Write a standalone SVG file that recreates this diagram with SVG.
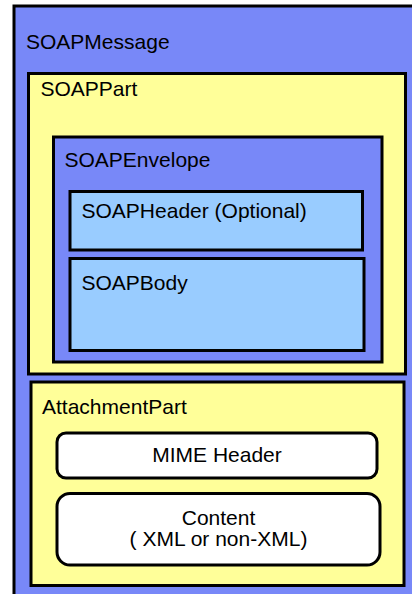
<svg xmlns="http://www.w3.org/2000/svg" width="412" height="594" viewBox="0 0 412 594">
  <style>
    .box { stroke: #000; stroke-width: 3; }
    .msg { fill: #7888F8; }
    .part { fill: #FFFF99; }
    .env { fill: #7888F8; }
    .inner { fill: #99CCFF; }
    .mime { fill: #FFFFFF; }
    text { font-family: "Liberation Sans", Arial, Helvetica, sans-serif; font-size: 21px; fill: #000; }
    .c { text-anchor: middle; }
  </style>
  <rect width="412" height="594" fill="#FFFFFF"/>

  <g id="soap-message">
    <rect class="box msg" x="14" y="6" width="420" height="620" stroke-width="2.5"/>
    <text x="26" y="49">SOAPMessage</text>
  </g>

  <g id="soap-part">
    <rect class="box part" x="28.5" y="73.5" width="377" height="300.5"/>
    <text x="40.5" y="96">SOAPPart</text>
  </g>

  <g id="soap-envelope">
    <rect class="box env" x="53.5" y="137" width="328.5" height="225"/>
    <text x="64.5" y="166.5">SOAPEnvelope</text>
  </g>

  <g id="soap-header">
    <rect class="box inner" x="70" y="191.5" width="292.5" height="58.5"/>
    <text x="81.5" y="217.5">SOAPHeader (Optional)</text>
  </g>

  <g id="soap-body">
    <rect class="box inner" x="70" y="258.5" width="294" height="92"/>
    <text x="81.5" y="290">SOAPBody</text>
  </g>

  <g id="attachment-part">
    <rect class="box part" x="31" y="382" width="373" height="203.5"/>
    <text x="42" y="414">AttachmentPart</text>
  </g>

  <g id="mime-header">
    <rect class="box mime" x="57" y="433" width="320" height="45" rx="9"/>
    <text class="c" x="217" y="462">MIME Header</text>
  </g>

  <g id="content">
    <rect class="box mime" x="57" y="493.5" width="323" height="71.5" rx="13"/>
    <text class="c" x="218.5" y="525">Content</text>
    <text class="c" x="218.5" y="546">( XML or non-XML)</text>
  </g>

  <g id="connectors"/>
</svg>
